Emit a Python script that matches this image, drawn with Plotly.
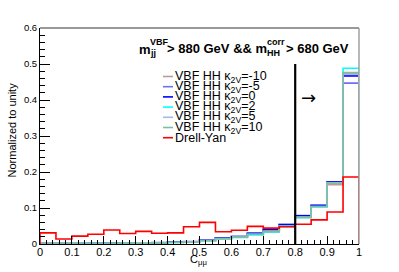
import plotly.graph_objects as go

# ---------------- data ----------------
bin_edges = [0.0, 0.05, 0.1, 0.15, 0.2, 0.25, 0.3, 0.35, 0.4, 0.45, 0.5,
             0.55, 0.6, 0.65, 0.7, 0.75, 0.8, 0.85, 0.9, 0.95, 1.0]

vbf_km10 = [0.001, 0.001, 0.001, 0.0015, 0.002, 0.002, 0.003, 0.003, 0.005, 0.006,
            0.010, 0.016, 0.020, 0.029, 0.038, 0.052, 0.076, 0.105, 0.165, 0.474]
vbf_km5 = [0.001, 0.001, 0.0015, 0.002, 0.002, 0.0025, 0.003, 0.004, 0.006, 0.007,
           0.011, 0.017, 0.021, 0.030, 0.040, 0.054, 0.079, 0.108, 0.173, 0.447]
vbf_k0 = [0.001, 0.001, 0.001, 0.0015, 0.002, 0.002, 0.003, 0.003, 0.006, 0.006,
          0.011, 0.017, 0.021, 0.030, 0.040, 0.054, 0.078, 0.107, 0.172, 0.467]
vbf_k2 = [0.0005, 0.0005, 0.001, 0.001, 0.0015, 0.002, 0.002, 0.003, 0.004, 0.005,
          0.009, 0.014, 0.018, 0.025, 0.033, 0.048, 0.073, 0.103, 0.169, 0.488]
vbf_k5 = [0.001, 0.001, 0.001, 0.0015, 0.002, 0.002, 0.003, 0.003, 0.005, 0.006,
          0.010, 0.015, 0.019, 0.027, 0.035, 0.050, 0.075, 0.104, 0.170, 0.471]
vbf_k10 = [0.001, 0.001, 0.001, 0.001, 0.0015, 0.002, 0.002, 0.003, 0.004, 0.005,
           0.009, 0.015, 0.019, 0.027, 0.035, 0.050, 0.074, 0.104, 0.169, 0.476]
drell_yan = [0.031, 0.014, 0.022, 0.027, 0.039, 0.029, 0.035, 0.030, 0.031, 0.048,
             0.060, 0.034, 0.038, 0.049, 0.044, 0.048, 0.055, 0.067, 0.089, 0.186]

series_names = ["VBF HH κ<sub>2V</sub>=-10", "VBF HH κ<sub>2V</sub>=-5",
                "VBF HH κ<sub>2V</sub>=0", "VBF HH κ<sub>2V</sub>=2",
                "VBF HH κ<sub>2V</sub>=5", "VBF HH κ<sub>2V</sub>=10", "Drell-Yan"]
series_values = [vbf_km10, vbf_km5, vbf_k0, vbf_k2, vbf_k5, vbf_k10, drell_yan]
series_colors = ["#c09a9a", "#6f6fff", "#0000ff", "#00ffff", "#a8b8e8", "#7fbf9f", "#ff0000"]

cut_value = 0.8
cut_top = 0.5

FONT = "Liberation Sans, Arial, Helvetica, sans-serif"

# pixel -> paper helpers (plot area: x 40..359, y 28..244)
def fx(px):
    return (px - 40) / 319.0

def fy(py):
    return (244 - py) / 216.0

fig = go.Figure()

for name, vals, col in zip(series_names, series_values, series_colors):
    xs = [bin_edges[0]] + bin_edges + [bin_edges[-1]]
    ys = [0] + vals + [vals[-1], 0]
    fig.add_trace(go.Scatter(x=xs, y=ys, mode="lines", line=dict(color=col, width=1.6, shape="hv"),
                             name=name, showlegend=False, hoverinfo="skip"))

# cut line
fig.add_trace(go.Scatter(x=[cut_value, cut_value], y=[0, cut_top], mode="lines",
                         line=dict(color="black", width=2.2), showlegend=False, hoverinfo="skip"))

fig.update_layout(
    width=399, height=272,
    margin=dict(l=40, r=40, t=28, b=28, autoexpand=False),
    paper_bgcolor="white", plot_bgcolor="white",
    showlegend=False,
    font=dict(family=FONT, color="black"),
)

fig.update_xaxes(range=[0, 1], tick0=0, dtick=0.1, ticks="inside", ticklen=8, tickcolor="black",
                 showline=True, linecolor="black", linewidth=1, showgrid=False, zeroline=False,
                 tickfont=dict(size=11, family=FONT), ticklabelstandoff=-2,
                 minor=dict(tickmode="linear", tick0=0, dtick=0.02, ticks="inside", ticklen=4,
                            tickcolor="black", showgrid=False))
fig.update_yaxes(range=[0, 0.6], tick0=0, dtick=0.1, ticks="inside", ticklen=10, tickcolor="black",
                 showline=True, linecolor="black", linewidth=1, showgrid=False, zeroline=False,
                 tickfont=dict(size=9.5, family=FONT),
                 minor=dict(tickmode="linear", tick0=0, dtick=0.02, ticks="inside", ticklen=5,
                            tickcolor="black", showgrid=False))

shapes = [
    dict(type="line", xref="x domain", yref="y domain", x0=0, x1=1, y0=1, y1=1,
         line=dict(color="#333333", width=1)),
    dict(type="line", xref="x domain", yref="y domain", x0=1, x1=1, y0=0, y1=1,
         line=dict(color="#a0a0a0", width=1.5)),
]

annotations = []

def ann(text, x, y, size, xanchor="left", bold=False, **kw):
    d = dict(text=text, x=fx(x), y=fy(y), xref="paper", yref="paper", showarrow=False,
             xanchor=xanchor, yanchor="middle",
             font=dict(size=size, family=FONT, color="black", weight="bold" if bold else "normal"),
             borderpad=0, borderwidth=0)
    d.update(kw)
    annotations.append(d)

# title pieces
ann("m", 139, 49, 13, bold=True)
ann("VBF", 150, 42, 9, bold=True)
ann("jj", 150, 53, 9, bold=True)
ann("> 880 GeV && m", 167, 48.5, 13, bold=True)
ann("corr", 267, 42, 9, bold=True)
ann("HH", 267, 53, 9, bold=True)
ann("> 680 GeV", 286, 48.5, 13, bold=True)

# legend
row_y0 = 76.5
row_dy = 10.2
for i, (name, col) in enumerate(zip(series_names, series_colors)):
    yy = row_y0 + i * row_dy
    shapes.append(dict(type="line", xref="paper", yref="paper", x0=fx(163), x1=fx(173),
                       y0=fy(yy), y1=fy(yy), line=dict(color=col, width=1.6)))
    ann(name, 175, yy, 12.5)

# arrow
annotations.append(dict(text="→", x=fx(308), y=fy(97), xref="paper", yref="paper", showarrow=False,
                        xanchor="center", yanchor="middle",
                        font=dict(size=18, family="DejaVu Sans", color="black")))

# axis titles
annotations.append(dict(text="Normalized to unity", x=fx(11), y=fy(130.5), xref="paper", yref="paper",
                        showarrow=False, textangle=-90, xanchor="center", yanchor="middle",
                        font=dict(size=11, family=FONT, color="black")))
ann("C<sub>μμ</sub>", 190, 260, 11)

fig.update_layout(shapes=shapes, annotations=annotations)

fig.write_html("out.html", config={"displayModeBar": False},
               post_script="document.body.style.margin='0';document.body.style.padding='0';")
